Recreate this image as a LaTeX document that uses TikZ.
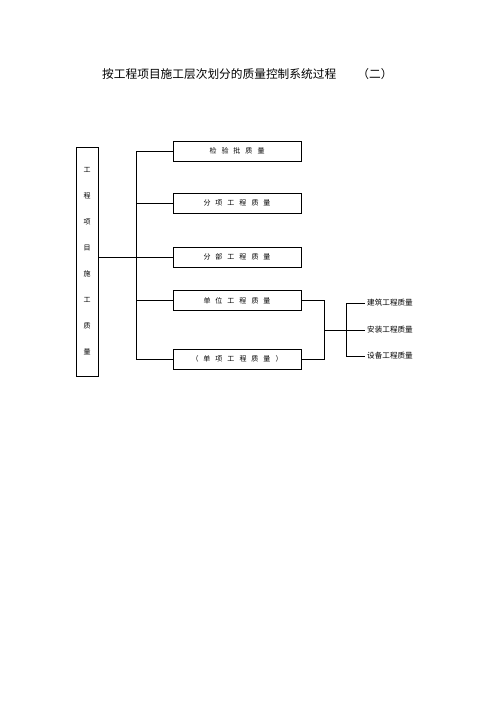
\documentclass[tikz,border=0pt]{standalone}
\usepackage{fontspec}
\newfontfamily\cjk{Noto Sans CJK SC}
\newcommand\boxtext[1]{\spaceskip=5pt\relax #1\hspace{12pt}}
\begin{document}
\begin{tikzpicture}[x=1pt, y=-1pt, >=stealth,
    every box/.style={draw, line width=0.6pt, minimum width=128pt, minimum height=20pt, inner sep=0pt,
      font=\cjk\fontsize{7}{8}\selectfont},
    sub label/.style={font=\cjk\fontsize{7.6}{9}\selectfont, inner sep=2.5pt},
    thin line/.style={line width=0.5pt},
    bus line/.style={line width=0.9pt}]
  \useasboundingbox (0,0) rectangle (500,707);
  % title
  \node [font=\cjk\fontsize{11.7}{14}\selectfont, anchor=west, inner sep=0pt] (title) at (102,74)
    {按工程项目施工层次划分的质量控制系统过程};
  \node [font=\cjk\fontsize{11.7}{14}\selectfont, inner sep=0pt] (title-2) at (375,74) {（二）};
  % left box
  \node [draw, line width=0.6pt, minimum width=22pt, minimum height=229pt, inner sep=0pt] (main) at (87,261.5) {};
  \foreach \c [count=\i] in {工,程,项,目,施,工,质,量}
    \node [font=\cjk\fontsize{7}{8}\selectfont, inner sep=0pt] (main-\i) at (87,170+26*\i-26) {\c};
  % second level
  \foreach \t/\y [count=\i] in {检 验 批 质 量/151, 分 项 工 程 质 量/203, 分 部 工 程 质 量/257,
      单 位 工 程 质 量/300.5, （ 单 项 工 程 质 量 ）/359}
    \node [every box] (box-\i) at (237,\y) {\boxtext{\t}};
  \coordinate (hub) at (136,257);
  \draw [bus line] (hub -| main.east) -- (hub);
  \draw [bus line] (box-1.west -| hub) -- (box-5.west -| hub);
  \foreach \i in {1,...,5}
    \draw [thin line] (box-\i.west -| hub) -- (box-\i.west);
  % third level
  \coordinate (join) at (324,330);
  \coordinate (bus2) at (346,330);
  \draw [thin line] (box-4.east) -- (box-4.east -| join) -- (box-5.east -| join) -- (box-5.east);
  \draw [thin line] (join) -- (bus2);
  \foreach \t/\y [count=\i] in {建筑工程质量/303, 安装工程质量/330, 设备工程质量/356}
    \node [sub label, anchor=west] (sub-\i) at (364.5,\y) {\t};
  \draw [bus line] (sub-1.west -| bus2) -- (sub-3.west -| bus2);
  \foreach \i in {1,...,3}
    \draw [thin line] (sub-\i.west -| bus2) -- (sub-\i.west);
\end{tikzpicture}
\end{document}
